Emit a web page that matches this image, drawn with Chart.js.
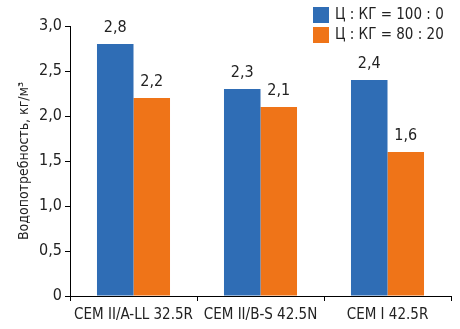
<!DOCTYPE html>
<html lang="ru">
<head>
  <meta charset="UTF-8" />
  <title>Водопотребность цемента</title>
  <script src="https://cdn.jsdelivr.net/npm/chart.js"></script>
  <style>
    html, body { margin: 0; padding: 0; background: #fff; }
    #wrap { width: 460px; height: 329px; }
  </style>
</head>
<body>
  <div id="wrap"><canvas id="waterChart" width="460" height="329"></canvas></div>

  <script>
    const cements = ['CEM II/A-LL 32.5R', 'CEM II/B-S 42.5N', 'CEM I 42.5R'];
    const seriesNames = ['Ц : КГ = 100 : 0', 'Ц : КГ = 80 : 20'];
    const pureCement = [2.8, 2.3, 2.4];
    const withAdditive = [2.2, 2.1, 1.6];
    const yTicks = [0, 0.5, 1.0, 1.5, 2.0, 2.5, 3.0];

    const FONT = '"DejaVu Sans Condensed", "Liberation Sans Narrow", "Liberation Sans", sans-serif';
    const fmt = v => v === 0 ? '0' : v.toFixed(1).replace('.', ',');

    // value labels above each bar
    const valueLabels = {
      id: 'valueLabels',
      afterDatasetsDraw(chart) {
        const ctx = chart.ctx;
        ctx.save();
        ctx.font = '16px ' + FONT;
        ctx.fillStyle = '#222';
        ctx.textAlign = 'center';
        ctx.textBaseline = 'bottom';
        chart.data.datasets.forEach((ds, i) => {
          chart.getDatasetMeta(i).data.forEach((bar, j) => {
            ctx.fillText(fmt(ds.data[j]), bar.x, bar.y - 8);
          });
        });
        ctx.restore();
      }
    };

    // legend in the upper right corner
    const cornerLegend = {
      id: 'cornerLegend',
      afterDraw(chart) {
        const ctx = chart.ctx;
        ctx.save();
        ctx.font = '15px ' + FONT;
        ctx.textBaseline = 'middle';
        chart.data.datasets.forEach((ds, i) => {
          const y = 7 + i * 20;
          ctx.fillStyle = ds.backgroundColor;
          ctx.fillRect(313, y, 16, 16);
          ctx.fillStyle = '#222';
          ctx.fillText(ds.label, 335, y + 8);
        });
        ctx.restore();
      }
    };

    new Chart(document.getElementById('waterChart'), {
      type: 'bar',
      data: {
        labels: cements,
        datasets: [
          { label: seriesNames[0], data: pureCement, backgroundColor: '#2f6db5' },
          { label: seriesNames[1], data: withAdditive, backgroundColor: '#ef7418' }
        ]
      },
      options: {
        responsive: false,
        animation: false,
        layout: { padding: { top: 26, right: 9, left: 0, bottom: 0 } },
        datasets: { bar: { categoryPercentage: 0.575, barPercentage: 1 } },
        plugins: { legend: { display: false }, tooltip: { enabled: false } },
        scales: {
          x: {
            grid: { drawOnChartArea: false, drawTicks: true, tickLength: 5, color: '#000' },
            border: { color: '#000', width: 1 },
            ticks: { color: '#222', font: { family: FONT, size: 15 }, padding: 5, maxRotation: 0, autoSkip: false },
            afterFit(scale) { scale.height = 33; }
          },
          y: {
            min: 0,
            max: 3,
            afterBuildTicks(scale) { scale.ticks = yTicks.map(v => ({ value: v })); },
            grid: { drawOnChartArea: false, drawTicks: true, tickLength: 5, color: '#000' },
            border: { color: '#000', width: 1 },
            ticks: { color: '#222', font: { family: FONT, size: 16 }, padding: 3, callback: v => fmt(v) },
            title: {
              display: true,
              text: 'Водопотребность, кг/м³',
              color: '#222',
              font: { family: FONT, size: 14 },
              padding: { top: 16, bottom: 0 }
            },
            afterFit(scale) { scale.width = 70; }
          }
        }
      },
      plugins: [valueLabels, cornerLegend]
    });
  </script>
</body>
</html>
